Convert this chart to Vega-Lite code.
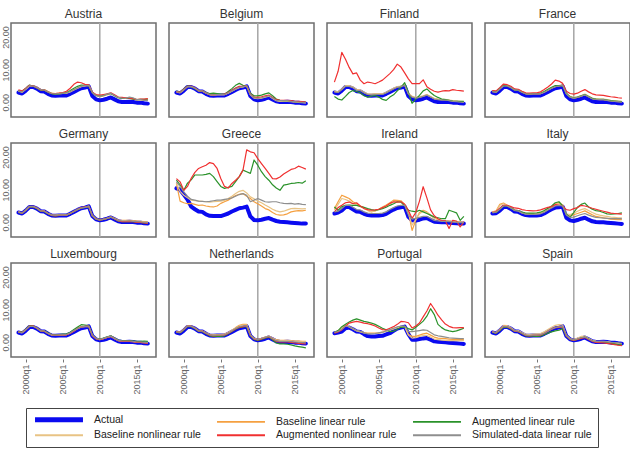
{
  "$schema": "https://vega.github.io/schema/vega-lite/v6.json",
  "background": "white",
  "padding": {"left": 0, "top": 7, "right": 2, "bottom": 2},
  "config": {
    "font": "Liberation Sans",
    "view": {"stroke": "#6e6e6e", "strokeWidth": 1.5},
    "axis": {"grid": false, "domain": false, "labelFont": "Liberation Sans", "labelColor": "#666666", "labelFontSize": 9, "tickColor": "#777777", "tickSize": 3, "title": null},
    "axisY": {"ticks": false, "labelPadding": 0},
    "header": {"labelFont": "Liberation Sans", "labelFontSize": 12, "labelColor": "#333333"},
    "legend": {"labelFont": "Liberation Sans", "labelFontSize": 10.5, "labelColor": "#222222"}
  },
  "data": {"values": [
{"c":"Austria","t":1999,"act":3.0,"bl":3.5,"bn":3.4,"al":3.6,"an":3.8,"sd":3.5},
{"c":"Austria","t":1999.5,"act":2.7,"bl":3.2,"bn":3.1,"al":3.4,"an":3.5,"sd":3.2},
{"c":"Austria","t":2000,"act":3.6,"bl":4.1,"bn":4.0,"al":4.3,"an":4.3,"sd":4.1},
{"c":"Austria","t":2000.5,"act":4.7,"bl":5.1,"bn":5.0,"al":5.3,"an":5.2,"sd":5.1},
{"c":"Austria","t":2001,"act":4.7,"bl":5.1,"bn":5.0,"al":5.0,"an":5.0,"sd":5.0},
{"c":"Austria","t":2001.5,"act":4.2,"bl":4.6,"bn":4.5,"al":4.4,"an":4.5,"sd":4.5},
{"c":"Austria","t":2002,"act":3.4,"bl":3.9,"bn":3.8,"al":3.8,"an":3.9,"sd":3.9},
{"c":"Austria","t":2002.5,"act":3.3,"bl":3.9,"bn":3.8,"al":3.7,"an":3.8,"sd":3.8},
{"c":"Austria","t":2003,"act":2.6,"bl":3.3,"bn":3.2,"al":3.1,"an":3.2,"sd":3.2},
{"c":"Austria","t":2003.5,"act":2.1,"bl":2.8,"bn":2.7,"al":2.6,"an":2.7,"sd":2.7},
{"c":"Austria","t":2004,"act":2.0,"bl":2.7,"bn":2.6,"al":2.5,"an":2.7,"sd":2.6},
{"c":"Austria","t":2004.5,"act":2.1,"bl":2.8,"bn":2.6,"al":2.6,"an":2.8,"sd":2.7},
{"c":"Austria","t":2005,"act":2.1,"bl":2.8,"bn":2.7,"al":2.8,"an":3.0,"sd":2.8},
{"c":"Austria","t":2005.5,"act":2.1,"bl":2.9,"bn":2.8,"al":3.0,"an":3.4,"sd":2.9},
{"c":"Austria","t":2006,"act":2.6,"bl":3.3,"bn":3.2,"al":3.6,"an":4.3,"sd":3.3},
{"c":"Austria","t":2006.5,"act":3.2,"bl":3.9,"bn":3.8,"al":4.3,"an":5.5,"sd":3.9},
{"c":"Austria","t":2007,"act":3.8,"bl":4.4,"bn":4.3,"al":4.9,"an":6.2,"sd":4.4},
{"c":"Austria","t":2007.5,"act":4.3,"bl":4.9,"bn":4.8,"al":5.3,"an":6.0,"sd":4.9},
{"c":"Austria","t":2008,"act":4.5,"bl":5.1,"bn":5.0,"al":5.2,"an":5.5,"sd":5.1},
{"c":"Austria","t":2008.5,"act":4.9,"bl":5.3,"bn":5.2,"al":5.1,"an":5.4,"sd":5.2},
{"c":"Austria","t":2009,"act":1.9,"bl":3.1,"bn":3.0,"al":3.0,"an":3.1,"sd":3.0},
{"c":"Austria","t":2009.5,"act":0.9,"bl":2.1,"bn":2.0,"al":2.1,"an":2.4,"sd":2.1},
{"c":"Austria","t":2010,"act":0.6,"bl":1.8,"bn":1.7,"al":1.9,"an":2.2,"sd":1.8},
{"c":"Austria","t":2010.5,"act":0.8,"bl":2.0,"bn":1.9,"al":2.1,"an":2.4,"sd":2.1},
{"c":"Austria","t":2011,"act":1.1,"bl":2.4,"bn":2.3,"al":2.5,"an":2.6,"sd":2.5},
{"c":"Austria","t":2011.5,"act":1.5,"bl":2.7,"bn":2.6,"al":2.7,"an":2.9,"sd":2.8},
{"c":"Austria","t":2012,"act":0.9,"bl":2.1,"bn":2.0,"al":2.0,"an":2.3,"sd":2.1},
{"c":"Austria","t":2012.5,"act":0.3,"bl":1.5,"bn":1.4,"al":1.4,"an":1.6,"sd":1.5},
{"c":"Austria","t":2013,"act":0.1,"bl":1.3,"bn":1.2,"al":1.2,"an":1.5,"sd":1.3},
{"c":"Austria","t":2013.5,"act":0.1,"bl":1.2,"bn":1.2,"al":1.2,"an":1.4,"sd":1.2},
{"c":"Austria","t":2014,"act":0.2,"bl":1.3,"bn":1.2,"al":1.2,"an":1.3,"sd":1.6},
{"c":"Austria","t":2014.5,"act":0.1,"bl":1.1,"bn":1.0,"al":1.0,"an":1.1,"sd":1.4},
{"c":"Austria","t":2015,"act":-0.1,"bl":0.9,"bn":0.8,"al":0.8,"an":0.8,"sd":0.8},
{"c":"Austria","t":2015.5,"act":-0.1,"bl":0.8,"bn":0.8,"al":0.9,"an":1.0,"sd":0.8},
{"c":"Austria","t":2016,"act":-0.3,"bl":0.7,"bn":0.7,"al":0.9,"an":1.0,"sd":0.6},
{"c":"Austria","t":2016.5,"act":-0.4,"bl":0.7,"bn":0.6,"al":1.0,"an":1.1,"sd":0.6},
{"c":"Belgium","t":1999,"act":3.0,"bl":3.3,"bn":3.2,"al":3.4,"an":3.3,"sd":3.3},
{"c":"Belgium","t":1999.5,"act":2.7,"bl":3.0,"bn":2.9,"al":3.2,"an":3.1,"sd":3.0},
{"c":"Belgium","t":2000,"act":3.6,"bl":3.9,"bn":3.8,"al":4.1,"an":4.0,"sd":3.9},
{"c":"Belgium","t":2000.5,"act":4.7,"bl":4.9,"bn":4.8,"al":5.0,"an":4.9,"sd":4.8},
{"c":"Belgium","t":2001,"act":4.7,"bl":4.9,"bn":4.8,"al":4.8,"an":4.9,"sd":4.8},
{"c":"Belgium","t":2001.5,"act":4.2,"bl":4.4,"bn":4.3,"al":4.2,"an":4.4,"sd":4.3},
{"c":"Belgium","t":2002,"act":3.4,"bl":3.6,"bn":3.5,"al":3.6,"an":3.6,"sd":3.6},
{"c":"Belgium","t":2002.5,"act":3.3,"bl":3.5,"bn":3.4,"al":3.5,"an":3.5,"sd":3.5},
{"c":"Belgium","t":2003,"act":2.6,"bl":2.9,"bn":2.8,"al":3.0,"an":2.9,"sd":2.9},
{"c":"Belgium","t":2003.5,"act":2.1,"bl":2.4,"bn":2.3,"al":2.7,"an":2.4,"sd":2.4},
{"c":"Belgium","t":2004,"act":2.0,"bl":2.3,"bn":2.2,"al":2.8,"an":2.3,"sd":2.3},
{"c":"Belgium","t":2004.5,"act":2.1,"bl":2.4,"bn":2.3,"al":2.7,"an":2.4,"sd":2.4},
{"c":"Belgium","t":2005,"act":2.1,"bl":2.4,"bn":2.3,"al":2.5,"an":2.4,"sd":2.4},
{"c":"Belgium","t":2005.5,"act":2.1,"bl":2.4,"bn":2.3,"al":2.5,"an":2.5,"sd":2.4},
{"c":"Belgium","t":2006,"act":2.6,"bl":2.9,"bn":2.8,"al":3.3,"an":3.0,"sd":2.9},
{"c":"Belgium","t":2006.5,"act":3.2,"bl":3.5,"bn":3.4,"al":4.2,"an":3.7,"sd":3.5},
{"c":"Belgium","t":2007,"act":3.8,"bl":4.1,"bn":4.0,"al":5.2,"an":4.4,"sd":4.1},
{"c":"Belgium","t":2007.5,"act":4.3,"bl":4.6,"bn":4.5,"al":5.8,"an":4.9,"sd":4.6},
{"c":"Belgium","t":2008,"act":4.5,"bl":4.8,"bn":4.7,"al":5.2,"an":4.9,"sd":4.8},
{"c":"Belgium","t":2008.5,"act":4.9,"bl":5.1,"bn":5.0,"al":5.0,"an":5.0,"sd":5.0},
{"c":"Belgium","t":2009,"act":1.9,"bl":2.4,"bn":2.3,"al":2.8,"an":2.5,"sd":2.4},
{"c":"Belgium","t":2009.5,"act":0.9,"bl":1.4,"bn":1.3,"al":2.0,"an":1.6,"sd":1.4},
{"c":"Belgium","t":2010,"act":0.6,"bl":1.2,"bn":1.1,"al":2.0,"an":1.5,"sd":1.2},
{"c":"Belgium","t":2010.5,"act":0.8,"bl":1.4,"bn":1.3,"al":2.2,"an":1.7,"sd":1.4},
{"c":"Belgium","t":2011,"act":1.1,"bl":1.7,"bn":1.6,"al":2.6,"an":2.0,"sd":1.7},
{"c":"Belgium","t":2011.5,"act":1.5,"bl":2.0,"bn":1.9,"al":2.9,"an":2.2,"sd":2.0},
{"c":"Belgium","t":2012,"act":0.9,"bl":1.3,"bn":1.2,"al":2.0,"an":1.5,"sd":1.3},
{"c":"Belgium","t":2012.5,"act":0.3,"bl":0.6,"bn":0.5,"al":1.0,"an":0.8,"sd":0.6},
{"c":"Belgium","t":2013,"act":0.1,"bl":0.4,"bn":0.3,"al":0.6,"an":0.6,"sd":0.5},
{"c":"Belgium","t":2013.5,"act":0.1,"bl":0.4,"bn":0.3,"al":0.5,"an":0.6,"sd":0.5},
{"c":"Belgium","t":2014,"act":0.2,"bl":0.4,"bn":0.3,"al":0.5,"an":0.6,"sd":0.5},
{"c":"Belgium","t":2014.5,"act":0.1,"bl":0.3,"bn":0.2,"al":0.4,"an":0.5,"sd":0.3},
{"c":"Belgium","t":2015,"act":-0.1,"bl":0.1,"bn":0.1,"al":0.2,"an":0.3,"sd":0.2},
{"c":"Belgium","t":2015.5,"act":-0.1,"bl":0.1,"bn":0.0,"al":0.2,"an":0.3,"sd":0.1},
{"c":"Belgium","t":2016,"act":-0.3,"bl":0.0,"bn":-0.1,"al":0.1,"an":0.2,"sd":0.0},
{"c":"Belgium","t":2016.5,"act":-0.4,"bl":-0.1,"bn":-0.2,"al":0.0,"an":0.1,"sd":-0.1},
{"c":"Finland","t":1999,"act":3.0,"bl":3.3,"bn":3.4,"al":1.8,"an":6.2,"sd":3.2},
{"c":"Finland","t":1999.5,"act":2.7,"bl":3.1,"bn":3.2,"al":1.0,"an":9.5,"sd":3.0},
{"c":"Finland","t":2000,"act":3.6,"bl":4.0,"bn":4.1,"al":0.7,"an":15.3,"sd":3.9},
{"c":"Finland","t":2000.5,"act":4.7,"bl":5.0,"bn":5.1,"al":1.8,"an":13.2,"sd":4.9},
{"c":"Finland","t":2001,"act":4.7,"bl":5.0,"bn":5.1,"al":3.0,"an":10.7,"sd":4.9},
{"c":"Finland","t":2001.5,"act":4.2,"bl":4.6,"bn":4.7,"al":3.6,"an":8.7,"sd":4.5},
{"c":"Finland","t":2002,"act":3.4,"bl":3.8,"bn":3.9,"al":3.3,"an":9.0,"sd":3.7},
{"c":"Finland","t":2002.5,"act":3.3,"bl":3.7,"bn":3.8,"al":2.9,"an":6.8,"sd":3.6},
{"c":"Finland","t":2003,"act":2.6,"bl":3.0,"bn":3.1,"al":2.0,"an":5.7,"sd":2.9},
{"c":"Finland","t":2003.5,"act":2.1,"bl":2.5,"bn":2.6,"al":1.6,"an":6.2,"sd":2.4},
{"c":"Finland","t":2004,"act":2.0,"bl":2.4,"bn":2.5,"al":1.9,"an":6.0,"sd":2.3},
{"c":"Finland","t":2004.5,"act":2.1,"bl":2.5,"bn":2.6,"al":2.1,"an":5.7,"sd":2.4},
{"c":"Finland","t":2005,"act":2.1,"bl":2.5,"bn":2.6,"al":1.6,"an":6.2,"sd":2.4},
{"c":"Finland","t":2005.5,"act":2.1,"bl":2.5,"bn":2.6,"al":0.9,"an":6.8,"sd":2.4},
{"c":"Finland","t":2006,"act":2.6,"bl":3.0,"bn":3.1,"al":0.6,"an":7.8,"sd":2.9},
{"c":"Finland","t":2006.5,"act":3.2,"bl":3.6,"bn":3.7,"al":1.6,"an":8.8,"sd":3.5},
{"c":"Finland","t":2007,"act":3.8,"bl":4.2,"bn":4.3,"al":2.3,"an":10.0,"sd":4.1},
{"c":"Finland","t":2007.5,"act":4.3,"bl":4.7,"bn":4.8,"al":3.5,"an":11.7,"sd":4.6},
{"c":"Finland","t":2008,"act":4.5,"bl":4.9,"bn":5.0,"al":4.6,"an":10.8,"sd":4.8},
{"c":"Finland","t":2008.5,"act":4.9,"bl":5.3,"bn":5.4,"al":6.0,"an":9.0,"sd":5.2},
{"c":"Finland","t":2009,"act":1.9,"bl":2.7,"bn":2.8,"al":3.0,"an":7.2,"sd":2.6},
{"c":"Finland","t":2009.5,"act":0.9,"bl":1.7,"bn":1.8,"al":-0.3,"an":5.7,"sd":1.6},
{"c":"Finland","t":2010,"act":0.6,"bl":1.4,"bn":1.5,"al":1.0,"an":5.7,"sd":1.3},
{"c":"Finland","t":2010.5,"act":0.8,"bl":1.6,"bn":1.7,"al":2.1,"an":5.7,"sd":1.5},
{"c":"Finland","t":2011,"act":1.1,"bl":1.9,"bn":2.0,"al":3.5,"an":6.9,"sd":1.8},
{"c":"Finland","t":2011.5,"act":1.5,"bl":2.3,"bn":2.4,"al":4.1,"an":4.8,"sd":2.2},
{"c":"Finland","t":2012,"act":0.9,"bl":1.7,"bn":1.8,"al":3.0,"an":4.0,"sd":1.6},
{"c":"Finland","t":2012.5,"act":0.3,"bl":1.1,"bn":1.2,"al":2.1,"an":3.4,"sd":1.0},
{"c":"Finland","t":2013,"act":0.1,"bl":0.9,"bn":1.0,"al":1.5,"an":3.1,"sd":0.8},
{"c":"Finland","t":2013.5,"act":0.1,"bl":0.8,"bn":0.9,"al":1.0,"an":3.4,"sd":0.7},
{"c":"Finland","t":2014,"act":0.2,"bl":0.8,"bn":0.9,"al":0.8,"an":3.6,"sd":0.7},
{"c":"Finland","t":2014.5,"act":0.1,"bl":0.6,"bn":0.7,"al":0.6,"an":3.5,"sd":0.5},
{"c":"Finland","t":2015,"act":-0.1,"bl":0.4,"bn":0.5,"al":0.4,"an":3.9,"sd":0.3},
{"c":"Finland","t":2015.5,"act":-0.1,"bl":0.3,"bn":0.4,"al":0.3,"an":3.7,"sd":0.2},
{"c":"Finland","t":2016,"act":-0.3,"bl":0.2,"bn":0.3,"al":0.3,"an":3.6,"sd":0.1},
{"c":"Finland","t":2016.5,"act":-0.4,"bl":0.1,"bn":0.2,"al":0.3,"an":3.4,"sd":0.0},
{"c":"France","t":1999,"act":3.0,"bl":3.3,"bn":3.4,"al":3.4,"an":3.6,"sd":3.3},
{"c":"France","t":1999.5,"act":2.7,"bl":3.1,"bn":3.2,"al":3.3,"an":3.5,"sd":3.1},
{"c":"France","t":2000,"act":3.6,"bl":4.1,"bn":4.2,"al":4.3,"an":4.5,"sd":4.1},
{"c":"France","t":2000.5,"act":4.7,"bl":5.1,"bn":5.2,"al":5.2,"an":5.6,"sd":5.0},
{"c":"France","t":2001,"act":4.7,"bl":5.1,"bn":5.2,"al":5.0,"an":5.4,"sd":5.0},
{"c":"France","t":2001.5,"act":4.2,"bl":4.6,"bn":4.7,"al":4.5,"an":4.9,"sd":4.5},
{"c":"France","t":2002,"act":3.4,"bl":3.8,"bn":3.9,"al":3.8,"an":4.1,"sd":3.8},
{"c":"France","t":2002.5,"act":3.3,"bl":3.7,"bn":3.8,"al":3.7,"an":4.0,"sd":3.7},
{"c":"France","t":2003,"act":2.6,"bl":3.1,"bn":3.2,"al":3.2,"an":3.4,"sd":3.1},
{"c":"France","t":2003.5,"act":2.1,"bl":2.6,"bn":2.7,"al":2.7,"an":2.9,"sd":2.6},
{"c":"France","t":2004,"act":2.0,"bl":2.5,"bn":2.6,"al":2.6,"an":2.8,"sd":2.5},
{"c":"France","t":2004.5,"act":2.1,"bl":2.6,"bn":2.7,"al":2.7,"an":2.9,"sd":2.6},
{"c":"France","t":2005,"act":2.1,"bl":2.6,"bn":2.7,"al":2.7,"an":2.9,"sd":2.6},
{"c":"France","t":2005.5,"act":2.1,"bl":2.6,"bn":2.7,"al":2.8,"an":3.2,"sd":2.6},
{"c":"France","t":2006,"act":2.6,"bl":3.1,"bn":3.2,"al":3.3,"an":3.9,"sd":3.1},
{"c":"France","t":2006.5,"act":3.2,"bl":3.7,"bn":3.8,"al":4.0,"an":4.7,"sd":3.7},
{"c":"France","t":2007,"act":3.8,"bl":4.3,"bn":4.4,"al":4.6,"an":5.6,"sd":4.3},
{"c":"France","t":2007.5,"act":4.3,"bl":4.8,"bn":4.9,"al":5.1,"an":6.8,"sd":4.8},
{"c":"France","t":2008,"act":4.5,"bl":5.0,"bn":5.1,"al":5.1,"an":6.5,"sd":5.0},
{"c":"France","t":2008.5,"act":4.9,"bl":5.2,"bn":5.3,"al":5.2,"an":5.8,"sd":5.2},
{"c":"France","t":2009,"act":1.9,"bl":2.6,"bn":2.8,"al":2.7,"an":3.4,"sd":2.6},
{"c":"France","t":2009.5,"act":0.9,"bl":1.6,"bn":1.8,"al":1.7,"an":2.7,"sd":1.6},
{"c":"France","t":2010,"act":0.6,"bl":1.3,"bn":1.5,"al":1.4,"an":2.5,"sd":1.3},
{"c":"France","t":2010.5,"act":0.8,"bl":1.5,"bn":1.7,"al":1.6,"an":2.8,"sd":1.5},
{"c":"France","t":2011,"act":1.1,"bl":1.9,"bn":2.1,"al":2.0,"an":3.4,"sd":1.9},
{"c":"France","t":2011.5,"act":1.5,"bl":2.3,"bn":2.5,"al":2.4,"an":3.9,"sd":2.3},
{"c":"France","t":2012,"act":0.9,"bl":1.7,"bn":1.9,"al":1.8,"an":3.2,"sd":1.7},
{"c":"France","t":2012.5,"act":0.3,"bl":1.1,"bn":1.3,"al":1.2,"an":2.6,"sd":1.1},
{"c":"France","t":2013,"act":0.1,"bl":0.9,"bn":1.1,"al":1.0,"an":2.3,"sd":0.9},
{"c":"France","t":2013.5,"act":0.1,"bl":0.8,"bn":1.0,"al":0.9,"an":2.2,"sd":0.8},
{"c":"France","t":2014,"act":0.2,"bl":0.8,"bn":1.0,"al":0.9,"an":2.1,"sd":0.8},
{"c":"France","t":2014.5,"act":0.1,"bl":0.6,"bn":0.8,"al":0.7,"an":1.9,"sd":0.6},
{"c":"France","t":2015,"act":-0.1,"bl":0.4,"bn":0.6,"al":0.5,"an":1.7,"sd":0.4},
{"c":"France","t":2015.5,"act":-0.1,"bl":0.3,"bn":0.5,"al":0.4,"an":1.6,"sd":0.3},
{"c":"France","t":2016,"act":-0.3,"bl":0.2,"bn":0.4,"al":0.3,"an":1.4,"sd":0.2},
{"c":"France","t":2016.5,"act":-0.4,"bl":0.1,"bn":0.3,"al":0.2,"an":1.3,"sd":0.1},
{"c":"Germany","t":1999,"act":3.0,"bl":3.2,"bn":3.1,"al":3.0,"an":3.1,"sd":3.1},
{"c":"Germany","t":1999.5,"act":2.7,"bl":2.9,"bn":2.8,"al":2.8,"an":2.8,"sd":2.8},
{"c":"Germany","t":2000,"act":3.6,"bl":3.8,"bn":3.7,"al":3.7,"an":3.7,"sd":3.7},
{"c":"Germany","t":2000.5,"act":4.7,"bl":4.9,"bn":4.8,"al":4.8,"an":4.8,"sd":4.8},
{"c":"Germany","t":2001,"act":4.7,"bl":4.9,"bn":4.8,"al":4.7,"an":4.8,"sd":4.8},
{"c":"Germany","t":2001.5,"act":4.2,"bl":4.4,"bn":4.3,"al":4.2,"an":4.3,"sd":4.3},
{"c":"Germany","t":2002,"act":3.4,"bl":3.6,"bn":3.5,"al":3.4,"an":3.5,"sd":3.5},
{"c":"Germany","t":2002.5,"act":3.3,"bl":3.5,"bn":3.4,"al":3.3,"an":3.4,"sd":3.4},
{"c":"Germany","t":2003,"act":2.6,"bl":2.8,"bn":2.7,"al":2.6,"an":2.7,"sd":2.7},
{"c":"Germany","t":2003.5,"act":2.1,"bl":2.3,"bn":2.2,"al":2.1,"an":2.1,"sd":2.2},
{"c":"Germany","t":2004,"act":2.0,"bl":2.2,"bn":2.1,"al":2.0,"an":2.0,"sd":2.1},
{"c":"Germany","t":2004.5,"act":2.1,"bl":2.3,"bn":2.2,"al":2.1,"an":2.1,"sd":2.2},
{"c":"Germany","t":2005,"act":2.1,"bl":2.3,"bn":2.2,"al":2.1,"an":2.1,"sd":2.2},
{"c":"Germany","t":2005.5,"act":2.1,"bl":2.3,"bn":2.2,"al":2.2,"an":2.2,"sd":2.2},
{"c":"Germany","t":2006,"act":2.6,"bl":2.8,"bn":2.7,"al":2.7,"an":2.7,"sd":2.7},
{"c":"Germany","t":2006.5,"act":3.2,"bl":3.4,"bn":3.3,"al":3.3,"an":3.3,"sd":3.3},
{"c":"Germany","t":2007,"act":3.8,"bl":4.0,"bn":3.9,"al":3.9,"an":3.9,"sd":3.9},
{"c":"Germany","t":2007.5,"act":4.3,"bl":4.5,"bn":4.4,"al":4.4,"an":4.5,"sd":4.4},
{"c":"Germany","t":2008,"act":4.5,"bl":4.7,"bn":4.6,"al":4.6,"an":4.7,"sd":4.6},
{"c":"Germany","t":2008.5,"act":4.9,"bl":5.0,"bn":4.9,"al":4.9,"an":4.9,"sd":4.9},
{"c":"Germany","t":2009,"act":1.9,"bl":2.1,"bn":2.0,"al":2.0,"an":2.0,"sd":2.0},
{"c":"Germany","t":2009.5,"act":0.9,"bl":1.1,"bn":1.0,"al":1.0,"an":1.0,"sd":1.0},
{"c":"Germany","t":2010,"act":0.6,"bl":0.8,"bn":0.7,"al":0.7,"an":0.7,"sd":0.7},
{"c":"Germany","t":2010.5,"act":0.8,"bl":1.0,"bn":0.9,"al":0.9,"an":0.9,"sd":0.9},
{"c":"Germany","t":2011,"act":1.1,"bl":1.3,"bn":1.2,"al":1.2,"an":1.2,"sd":1.2},
{"c":"Germany","t":2011.5,"act":1.5,"bl":1.7,"bn":1.6,"al":1.6,"an":1.6,"sd":1.6},
{"c":"Germany","t":2012,"act":0.9,"bl":1.2,"bn":1.1,"al":1.0,"an":1.0,"sd":1.1},
{"c":"Germany","t":2012.5,"act":0.3,"bl":0.7,"bn":0.6,"al":0.4,"an":0.4,"sd":0.5},
{"c":"Germany","t":2013,"act":0.1,"bl":0.6,"bn":0.5,"al":0.2,"an":0.2,"sd":0.4},
{"c":"Germany","t":2013.5,"act":0.1,"bl":0.6,"bn":0.5,"al":0.2,"an":0.2,"sd":0.4},
{"c":"Germany","t":2014,"act":0.2,"bl":0.6,"bn":0.5,"al":0.3,"an":0.3,"sd":0.4},
{"c":"Germany","t":2014.5,"act":0.1,"bl":0.5,"bn":0.4,"al":0.2,"an":0.2,"sd":0.3},
{"c":"Germany","t":2015,"act":-0.1,"bl":0.4,"bn":0.3,"al":0.0,"an":0.0,"sd":0.2},
{"c":"Germany","t":2015.5,"act":-0.1,"bl":0.3,"bn":0.2,"al":0.0,"an":0.0,"sd":0.1},
{"c":"Germany","t":2016,"act":-0.3,"bl":0.2,"bn":0.1,"al":-0.2,"an":-0.2,"sd":0.0},
{"c":"Germany","t":2016.5,"act":-0.4,"bl":0.1,"bn":0.0,"al":-0.3,"an":-0.3,"sd":-0.1},
{"c":"Greece","t":1999,"act":10.4,"bl":11.9,"bn":11.9,"al":12.9,"an":13.4,"sd":12.4},
{"c":"Greece","t":1999.5,"act":10.0,"bl":6.5,"bn":9.5,"al":11.5,"an":12.4,"sd":11.0},
{"c":"Greece","t":2000,"act":8.5,"bl":6.0,"bn":8.3,"al":9.8,"an":9.8,"sd":9.3},
{"c":"Greece","t":2000.5,"act":7.0,"bl":5.7,"bn":7.5,"al":12.0,"an":11.0,"sd":8.0},
{"c":"Greece","t":2001,"act":4.8,"bl":5.8,"bn":6.8,"al":13.0,"an":13.5,"sd":7.0},
{"c":"Greece","t":2001.5,"act":4.0,"bl":5.5,"bn":6.6,"al":14.5,"an":15.3,"sd":6.8},
{"c":"Greece","t":2002,"act":3.3,"bl":5.2,"bn":6.5,"al":14.5,"an":16.5,"sd":6.5},
{"c":"Greece","t":2002.5,"act":3.2,"bl":5.3,"bn":6.4,"al":14.5,"an":17.0,"sd":6.4},
{"c":"Greece","t":2003,"act":2.4,"bl":5.0,"bn":6.3,"al":14.7,"an":17.5,"sd":6.3},
{"c":"Greece","t":2003.5,"act":2.0,"bl":4.8,"bn":6.2,"al":15.0,"an":18.3,"sd":6.4},
{"c":"Greece","t":2004,"act":1.9,"bl":4.7,"bn":6.3,"al":14.0,"an":18.0,"sd":6.6},
{"c":"Greece","t":2004.5,"act":1.9,"bl":5.0,"bn":6.4,"al":12.5,"an":16.5,"sd":6.8},
{"c":"Greece","t":2005,"act":1.9,"bl":5.8,"bn":6.5,"al":11.0,"an":13.4,"sd":6.8},
{"c":"Greece","t":2005.5,"act":2.3,"bl":6.3,"bn":6.7,"al":10.4,"an":11.0,"sd":7.0},
{"c":"Greece","t":2006,"act":2.7,"bl":6.8,"bn":7.3,"al":10.7,"an":10.5,"sd":7.2},
{"c":"Greece","t":2006.5,"act":3.3,"bl":7.5,"bn":8.0,"al":11.0,"an":11.9,"sd":7.5},
{"c":"Greece","t":2007,"act":3.8,"bl":8.2,"bn":8.8,"al":12.5,"an":12.9,"sd":8.0},
{"c":"Greece","t":2007.5,"act":4.3,"bl":8.6,"bn":9.5,"al":14.0,"an":14.0,"sd":8.5},
{"c":"Greece","t":2008,"act":4.5,"bl":8.8,"bn":9.8,"al":16.0,"an":16.0,"sd":8.8},
{"c":"Greece","t":2008.5,"act":4.8,"bl":8.0,"bn":9.0,"al":15.5,"an":22.2,"sd":8.3},
{"c":"Greece","t":2009,"act":1.8,"bl":7.3,"bn":7.8,"al":15.0,"an":21.6,"sd":6.3},
{"c":"Greece","t":2009.5,"act":0.7,"bl":6.3,"bn":7.2,"al":19.1,"an":21.3,"sd":6.8},
{"c":"Greece","t":2010,"act":0.6,"bl":5.7,"bn":6.5,"al":17.5,"an":19.5,"sd":7.3},
{"c":"Greece","t":2010.5,"act":0.8,"bl":5.0,"bn":6.0,"al":15.5,"an":18.0,"sd":6.8},
{"c":"Greece","t":2011,"act":1.1,"bl":4.2,"bn":5.3,"al":14.0,"an":16.5,"sd":6.3},
{"c":"Greece","t":2011.5,"act":1.3,"bl":3.8,"bn":4.7,"al":12.9,"an":15.0,"sd":6.2},
{"c":"Greece","t":2012,"act":0.8,"bl":3.0,"bn":4.0,"al":11.5,"an":13.4,"sd":6.3},
{"c":"Greece","t":2012.5,"act":0.4,"bl":2.4,"bn":3.5,"al":10.5,"an":13.3,"sd":6.3},
{"c":"Greece","t":2013,"act":0.2,"bl":2.2,"bn":3.2,"al":9.8,"an":13.9,"sd":6.0},
{"c":"Greece","t":2013.5,"act":0.1,"bl":2.3,"bn":3.4,"al":11.4,"an":14.8,"sd":5.8},
{"c":"Greece","t":2014,"act":0.0,"bl":2.6,"bn":3.8,"al":11.6,"an":15.5,"sd":5.7},
{"c":"Greece","t":2014.5,"act":-0.1,"bl":3.2,"bn":4.2,"al":11.9,"an":16.2,"sd":5.8},
{"c":"Greece","t":2015,"act":-0.2,"bl":3.4,"bn":4.3,"al":12.0,"an":16.5,"sd":5.6},
{"c":"Greece","t":2015.5,"act":-0.3,"bl":3.6,"bn":4.2,"al":12.2,"an":17.2,"sd":5.7},
{"c":"Greece","t":2016,"act":-0.4,"bl":3.5,"bn":4.1,"al":12.0,"an":16.8,"sd":5.5},
{"c":"Greece","t":2016.5,"act":-0.4,"bl":3.7,"bn":4.2,"al":12.7,"an":16.3,"sd":5.4},
{"c":"Ireland","t":1999,"act":2.7,"bl":4.2,"bn":3.8,"al":4.7,"an":3.2,"sd":3.2},
{"c":"Ireland","t":1999.5,"act":3.0,"bl":6.3,"bn":5.5,"al":3.7,"an":4.5,"sd":3.4},
{"c":"Ireland","t":2000,"act":3.6,"bl":8.3,"bn":7.3,"al":4.8,"an":5.2,"sd":4.2},
{"c":"Ireland","t":2000.5,"act":4.7,"bl":7.8,"bn":7.0,"al":5.2,"an":6.0,"sd":5.2},
{"c":"Ireland","t":2001,"act":4.7,"bl":7.3,"bn":6.5,"al":5.3,"an":6.2,"sd":5.2},
{"c":"Ireland","t":2001.5,"act":4.0,"bl":6.3,"bn":5.8,"al":5.2,"an":5.7,"sd":4.6},
{"c":"Ireland","t":2002,"act":3.3,"bl":5.7,"bn":5.3,"al":5.2,"an":6.0,"sd":3.9},
{"c":"Ireland","t":2002.5,"act":3.2,"bl":5.0,"bn":4.8,"al":4.9,"an":5.0,"sd":3.8},
{"c":"Ireland","t":2003,"act":2.6,"bl":4.5,"bn":4.3,"al":4.6,"an":4.2,"sd":3.2},
{"c":"Ireland","t":2003.5,"act":2.2,"bl":3.7,"bn":3.6,"al":4.2,"an":3.9,"sd":2.8},
{"c":"Ireland","t":2004,"act":2.1,"bl":3.2,"bn":3.3,"al":3.9,"an":3.7,"sd":2.7},
{"c":"Ireland","t":2004.5,"act":2.1,"bl":3.5,"bn":3.5,"al":3.7,"an":3.8,"sd":2.7},
{"c":"Ireland","t":2005,"act":2.1,"bl":4.0,"bn":4.0,"al":3.9,"an":4.0,"sd":2.7},
{"c":"Ireland","t":2005.5,"act":2.2,"bl":4.7,"bn":4.5,"al":4.2,"an":4.5,"sd":2.8},
{"c":"Ireland","t":2006,"act":2.6,"bl":5.3,"bn":5.0,"al":4.6,"an":5.0,"sd":3.2},
{"c":"Ireland","t":2006.5,"act":3.3,"bl":6.0,"bn":5.6,"al":5.2,"an":5.8,"sd":3.9},
{"c":"Ireland","t":2007,"act":3.9,"bl":6.8,"bn":6.2,"al":5.7,"an":6.3,"sd":4.5},
{"c":"Ireland","t":2007.5,"act":4.4,"bl":6.7,"bn":6.3,"al":6.3,"an":6.2,"sd":5.0},
{"c":"Ireland","t":2008,"act":4.6,"bl":6.6,"bn":6.3,"al":6.2,"an":6.3,"sd":5.2},
{"c":"Ireland","t":2008.5,"act":4.8,"bl":5.5,"bn":5.3,"al":5.0,"an":5.5,"sd":5.2},
{"c":"Ireland","t":2009,"act":1.7,"bl":3.2,"bn":2.8,"al":3.7,"an":3.7,"sd":2.3},
{"c":"Ireland","t":2009.5,"act":0.6,"bl":-2.5,"bn":-0.9,"al":3.4,"an":1.2,"sd":1.0},
{"c":"Ireland","t":2010,"act":0.5,"bl":0.6,"bn":0.9,"al":3.2,"an":3.0,"sd":1.2},
{"c":"Ireland","t":2010.5,"act":0.8,"bl":3.0,"bn":2.6,"al":3.7,"an":6.5,"sd":1.5},
{"c":"Ireland","t":2011,"act":1.2,"bl":3.7,"bn":3.4,"al":3.2,"an":10.9,"sd":1.8},
{"c":"Ireland","t":2011.5,"act":1.3,"bl":3.2,"bn":3.0,"al":2.7,"an":7.5,"sd":1.8},
{"c":"Ireland","t":2012,"act":0.7,"bl":2.2,"bn":2.0,"al":2.2,"an":3.8,"sd":1.2},
{"c":"Ireland","t":2012.5,"act":0.2,"bl":1.3,"bn":1.2,"al":1.6,"an":2.0,"sd":0.6},
{"c":"Ireland","t":2013,"act":0.1,"bl":0.8,"bn":0.8,"al":1.4,"an":1.1,"sd":0.4},
{"c":"Ireland","t":2013.5,"act":0.0,"bl":0.6,"bn":0.5,"al":1.1,"an":0.5,"sd":0.3},
{"c":"Ireland","t":2014,"act":0.0,"bl":0.5,"bn":0.4,"al":1.1,"an":0.5,"sd":0.3},
{"c":"Ireland","t":2014.5,"act":-0.1,"bl":0.4,"bn":0.3,"al":3.7,"an":-1.9,"sd":0.2},
{"c":"Ireland","t":2015,"act":-0.2,"bl":0.3,"bn":0.2,"al":3.3,"an":0.6,"sd":0.1},
{"c":"Ireland","t":2015.5,"act":-0.3,"bl":0.2,"bn":0.1,"al":2.9,"an":0.4,"sd":0.0},
{"c":"Ireland","t":2016,"act":-0.4,"bl":0.1,"bn":0.0,"al":0.6,"an":-1.4,"sd":-0.1},
{"c":"Ireland","t":2016.5,"act":-0.4,"bl":0.1,"bn":0.0,"al":1.8,"an":0.1,"sd":-0.1},
{"c":"Italy","t":1999,"act":2.7,"bl":3.2,"bn":3.1,"al":3.0,"an":3.0,"sd":2.9},
{"c":"Italy","t":1999.5,"act":2.8,"bl":3.5,"bn":3.4,"al":3.0,"an":3.3,"sd":3.1},
{"c":"Italy","t":2000,"act":3.6,"bl":5.5,"bn":5.2,"al":4.0,"an":4.3,"sd":4.0},
{"c":"Italy","t":2000.5,"act":4.7,"bl":5.9,"bn":5.7,"al":5.0,"an":5.2,"sd":5.0},
{"c":"Italy","t":2001,"act":4.7,"bl":5.2,"bn":5.1,"al":5.0,"an":5.2,"sd":5.0},
{"c":"Italy","t":2001.5,"act":4.1,"bl":4.5,"bn":4.4,"al":4.4,"an":4.8,"sd":4.4},
{"c":"Italy","t":2002,"act":3.3,"bl":3.8,"bn":3.7,"al":3.7,"an":4.4,"sd":3.6},
{"c":"Italy","t":2002.5,"act":3.2,"bl":3.6,"bn":3.5,"al":3.6,"an":4.3,"sd":3.5},
{"c":"Italy","t":2003,"act":2.6,"bl":3.0,"bn":2.9,"al":3.1,"an":3.9,"sd":2.9},
{"c":"Italy","t":2003.5,"act":2.2,"bl":2.7,"bn":2.6,"al":2.8,"an":3.7,"sd":2.5},
{"c":"Italy","t":2004,"act":2.1,"bl":2.6,"bn":2.5,"al":2.8,"an":3.6,"sd":2.4},
{"c":"Italy","t":2004.5,"act":2.1,"bl":2.6,"bn":2.5,"al":2.8,"an":3.5,"sd":2.4},
{"c":"Italy","t":2005,"act":2.1,"bl":2.7,"bn":2.6,"al":2.9,"an":3.6,"sd":2.5},
{"c":"Italy","t":2005.5,"act":2.2,"bl":2.9,"bn":2.8,"al":3.1,"an":3.8,"sd":2.6},
{"c":"Italy","t":2006,"act":2.7,"bl":3.3,"bn":3.2,"al":3.6,"an":4.2,"sd":3.1},
{"c":"Italy","t":2006.5,"act":3.4,"bl":4.0,"bn":3.9,"al":4.3,"an":4.6,"sd":3.8},
{"c":"Italy","t":2007,"act":4.0,"bl":4.7,"bn":4.6,"al":5.0,"an":4.8,"sd":4.4},
{"c":"Italy","t":2007.5,"act":4.5,"bl":5.6,"bn":5.4,"al":6.0,"an":5.4,"sd":5.0},
{"c":"Italy","t":2008,"act":4.6,"bl":6.1,"bn":5.8,"al":6.3,"an":5.3,"sd":5.2},
{"c":"Italy","t":2008.5,"act":4.8,"bl":5.3,"bn":5.2,"al":5.0,"an":5.0,"sd":5.0},
{"c":"Italy","t":2009,"act":1.4,"bl":2.3,"bn":2.6,"al":2.5,"an":3.9,"sd":2.2},
{"c":"Italy","t":2009.5,"act":0.6,"bl":1.9,"bn":2.4,"al":1.6,"an":3.7,"sd":1.5},
{"c":"Italy","t":2010,"act":0.4,"bl":2.3,"bn":2.8,"al":3.0,"an":4.2,"sd":1.6},
{"c":"Italy","t":2010.5,"act":0.7,"bl":2.7,"bn":3.4,"al":4.6,"an":4.5,"sd":2.0},
{"c":"Italy","t":2011,"act":1.1,"bl":3.1,"bn":3.9,"al":5.5,"an":5.2,"sd":2.4},
{"c":"Italy","t":2011.5,"act":1.4,"bl":3.5,"bn":4.2,"al":5.9,"an":5.0,"sd":2.7},
{"c":"Italy","t":2012,"act":0.8,"bl":2.9,"bn":3.6,"al":4.7,"an":4.7,"sd":2.2},
{"c":"Italy","t":2012.5,"act":0.3,"bl":2.3,"bn":3.0,"al":4.0,"an":4.3,"sd":1.8},
{"c":"Italy","t":2013,"act":0.1,"bl":1.8,"bn":2.5,"al":3.6,"an":4.0,"sd":1.5},
{"c":"Italy","t":2013.5,"act":0.0,"bl":1.6,"bn":2.2,"al":3.4,"an":3.7,"sd":1.4},
{"c":"Italy","t":2014,"act":0.0,"bl":1.4,"bn":2.0,"al":3.0,"an":3.4,"sd":1.3},
{"c":"Italy","t":2014.5,"act":-0.1,"bl":1.2,"bn":1.8,"al":2.6,"an":3.1,"sd":1.2},
{"c":"Italy","t":2015,"act":-0.2,"bl":1.0,"bn":1.6,"al":2.5,"an":2.8,"sd":1.1},
{"c":"Italy","t":2015.5,"act":-0.3,"bl":0.9,"bn":1.5,"al":2.6,"an":2.7,"sd":1.1},
{"c":"Italy","t":2016,"act":-0.4,"bl":0.8,"bn":1.4,"al":2.7,"an":2.6,"sd":1.1},
{"c":"Italy","t":2016.5,"act":-0.5,"bl":0.8,"bn":1.4,"al":2.9,"an":2.5,"sd":1.1},
{"c":"Luxembourg","t":1999,"act":3.0,"bl":3.2,"bn":3.1,"al":3.3,"an":3.2,"sd":3.2},
{"c":"Luxembourg","t":1999.5,"act":2.7,"bl":3.0,"bn":2.9,"al":3.1,"an":3.0,"sd":3.0},
{"c":"Luxembourg","t":2000,"act":3.6,"bl":3.9,"bn":3.8,"al":4.0,"an":3.9,"sd":3.9},
{"c":"Luxembourg","t":2000.5,"act":4.7,"bl":5.0,"bn":4.9,"al":5.1,"an":5.0,"sd":4.9},
{"c":"Luxembourg","t":2001,"act":4.7,"bl":5.0,"bn":4.9,"al":5.0,"an":5.0,"sd":4.9},
{"c":"Luxembourg","t":2001.5,"act":4.2,"bl":4.4,"bn":4.3,"al":4.4,"an":4.4,"sd":4.4},
{"c":"Luxembourg","t":2002,"act":3.4,"bl":3.6,"bn":3.5,"al":3.6,"an":3.6,"sd":3.6},
{"c":"Luxembourg","t":2002.5,"act":3.3,"bl":3.5,"bn":3.4,"al":3.5,"an":3.4,"sd":3.5},
{"c":"Luxembourg","t":2003,"act":2.6,"bl":2.8,"bn":2.7,"al":2.9,"an":2.8,"sd":2.8},
{"c":"Luxembourg","t":2003.5,"act":2.1,"bl":2.3,"bn":2.2,"al":2.4,"an":2.3,"sd":2.3},
{"c":"Luxembourg","t":2004,"act":2.0,"bl":2.2,"bn":2.1,"al":2.3,"an":2.1,"sd":2.2},
{"c":"Luxembourg","t":2004.5,"act":2.1,"bl":2.3,"bn":2.2,"al":2.4,"an":2.2,"sd":2.3},
{"c":"Luxembourg","t":2005,"act":2.1,"bl":2.3,"bn":2.2,"al":2.5,"an":2.2,"sd":2.3},
{"c":"Luxembourg","t":2005.5,"act":2.1,"bl":2.4,"bn":2.3,"al":2.6,"an":2.3,"sd":2.4},
{"c":"Luxembourg","t":2006,"act":2.6,"bl":2.9,"bn":2.8,"al":3.1,"an":2.8,"sd":2.9},
{"c":"Luxembourg","t":2006.5,"act":3.2,"bl":3.6,"bn":3.5,"al":3.9,"an":3.5,"sd":3.6},
{"c":"Luxembourg","t":2007,"act":3.8,"bl":4.3,"bn":4.2,"al":4.7,"an":4.2,"sd":4.2},
{"c":"Luxembourg","t":2007.5,"act":4.3,"bl":4.8,"bn":4.7,"al":5.4,"an":4.7,"sd":4.7},
{"c":"Luxembourg","t":2008,"act":4.5,"bl":4.9,"bn":4.8,"al":5.3,"an":4.9,"sd":4.9},
{"c":"Luxembourg","t":2008.5,"act":4.9,"bl":5.0,"bn":4.9,"al":5.1,"an":5.0,"sd":5.0},
{"c":"Luxembourg","t":2009,"act":1.9,"bl":2.2,"bn":2.1,"al":2.3,"an":2.1,"sd":2.2},
{"c":"Luxembourg","t":2009.5,"act":0.9,"bl":1.2,"bn":1.1,"al":1.2,"an":1.1,"sd":1.2},
{"c":"Luxembourg","t":2010,"act":0.6,"bl":0.9,"bn":0.8,"al":1.0,"an":0.8,"sd":0.9},
{"c":"Luxembourg","t":2010.5,"act":0.8,"bl":1.2,"bn":1.1,"al":1.3,"an":1.1,"sd":1.2},
{"c":"Luxembourg","t":2011,"act":1.1,"bl":1.6,"bn":1.5,"al":1.7,"an":1.5,"sd":1.6},
{"c":"Luxembourg","t":2011.5,"act":1.5,"bl":1.9,"bn":1.8,"al":2.0,"an":1.8,"sd":1.9},
{"c":"Luxembourg","t":2012,"act":0.9,"bl":1.2,"bn":1.1,"al":1.3,"an":1.2,"sd":1.2},
{"c":"Luxembourg","t":2012.5,"act":0.3,"bl":0.6,"bn":0.5,"al":0.7,"an":0.5,"sd":0.6},
{"c":"Luxembourg","t":2013,"act":0.1,"bl":0.4,"bn":0.3,"al":0.5,"an":0.3,"sd":0.4},
{"c":"Luxembourg","t":2013.5,"act":0.1,"bl":0.4,"bn":0.3,"al":0.5,"an":0.3,"sd":0.4},
{"c":"Luxembourg","t":2014,"act":0.2,"bl":0.4,"bn":0.3,"al":0.5,"an":0.3,"sd":0.4},
{"c":"Luxembourg","t":2014.5,"act":0.1,"bl":0.3,"bn":0.2,"al":0.4,"an":0.2,"sd":0.3},
{"c":"Luxembourg","t":2015,"act":-0.1,"bl":0.1,"bn":0.0,"al":0.3,"an":0.0,"sd":0.1},
{"c":"Luxembourg","t":2015.5,"act":-0.1,"bl":0.1,"bn":0.0,"al":0.3,"an":0.0,"sd":0.1},
{"c":"Luxembourg","t":2016,"act":-0.3,"bl":0.0,"bn":-0.1,"al":0.4,"an":-0.2,"sd":0.0},
{"c":"Luxembourg","t":2016.5,"act":-0.4,"bl":-0.1,"bn":-0.2,"al":0.3,"an":-0.3,"sd":-0.1},
{"c":"Netherlands","t":1999,"act":3.0,"bl":3.3,"bn":3.2,"al":3.1,"an":3.2,"sd":3.2},
{"c":"Netherlands","t":1999.5,"act":2.7,"bl":3.1,"bn":3.0,"al":2.9,"an":3.0,"sd":3.0},
{"c":"Netherlands","t":2000,"act":3.6,"bl":4.0,"bn":3.9,"al":3.8,"an":3.9,"sd":3.9},
{"c":"Netherlands","t":2000.5,"act":4.7,"bl":5.1,"bn":5.0,"al":4.9,"an":5.0,"sd":5.0},
{"c":"Netherlands","t":2001,"act":4.7,"bl":5.0,"bn":4.9,"al":4.8,"an":4.9,"sd":4.9},
{"c":"Netherlands","t":2001.5,"act":4.2,"bl":4.4,"bn":4.3,"al":4.2,"an":4.3,"sd":4.3},
{"c":"Netherlands","t":2002,"act":3.4,"bl":3.6,"bn":3.5,"al":3.4,"an":3.5,"sd":3.5},
{"c":"Netherlands","t":2002.5,"act":3.3,"bl":3.5,"bn":3.4,"al":3.3,"an":3.4,"sd":3.4},
{"c":"Netherlands","t":2003,"act":2.6,"bl":2.9,"bn":2.8,"al":2.6,"an":2.7,"sd":2.8},
{"c":"Netherlands","t":2003.5,"act":2.1,"bl":2.4,"bn":2.3,"al":2.0,"an":2.2,"sd":2.3},
{"c":"Netherlands","t":2004,"act":2.0,"bl":2.3,"bn":2.2,"al":1.8,"an":2.0,"sd":2.1},
{"c":"Netherlands","t":2004.5,"act":2.1,"bl":2.4,"bn":2.3,"al":1.8,"an":2.1,"sd":2.2},
{"c":"Netherlands","t":2005,"act":2.1,"bl":2.4,"bn":2.3,"al":1.8,"an":2.1,"sd":2.2},
{"c":"Netherlands","t":2005.5,"act":2.1,"bl":2.5,"bn":2.4,"al":2.0,"an":2.2,"sd":2.3},
{"c":"Netherlands","t":2006,"act":2.6,"bl":3.0,"bn":2.9,"al":2.6,"an":2.7,"sd":2.8},
{"c":"Netherlands","t":2006.5,"act":3.2,"bl":3.7,"bn":3.6,"al":3.3,"an":3.4,"sd":3.5},
{"c":"Netherlands","t":2007,"act":3.8,"bl":4.5,"bn":4.3,"al":4.0,"an":4.1,"sd":4.2},
{"c":"Netherlands","t":2007.5,"act":4.3,"bl":5.2,"bn":5.0,"al":4.5,"an":4.6,"sd":4.8},
{"c":"Netherlands","t":2008,"act":4.5,"bl":5.5,"bn":5.3,"al":4.7,"an":4.8,"sd":5.0},
{"c":"Netherlands","t":2008.5,"act":4.9,"bl":5.5,"bn":5.3,"al":4.9,"an":5.0,"sd":5.1},
{"c":"Netherlands","t":2009,"act":1.9,"bl":2.3,"bn":2.2,"al":2.0,"an":2.1,"sd":2.2},
{"c":"Netherlands","t":2009.5,"act":0.9,"bl":1.2,"bn":1.1,"al":0.9,"an":1.0,"sd":1.1},
{"c":"Netherlands","t":2010,"act":0.6,"bl":0.9,"bn":0.8,"al":0.6,"an":0.7,"sd":0.8},
{"c":"Netherlands","t":2010.5,"act":0.8,"bl":1.2,"bn":1.1,"al":0.9,"an":1.0,"sd":1.1},
{"c":"Netherlands","t":2011,"act":1.1,"bl":1.6,"bn":1.5,"al":1.3,"an":1.4,"sd":1.5},
{"c":"Netherlands","t":2011.5,"act":1.5,"bl":1.9,"bn":1.8,"al":1.6,"an":1.7,"sd":1.8},
{"c":"Netherlands","t":2012,"act":0.9,"bl":1.3,"bn":1.2,"al":0.8,"an":1.0,"sd":1.1},
{"c":"Netherlands","t":2012.5,"act":0.3,"bl":0.8,"bn":0.7,"al":-0.2,"an":0.3,"sd":0.5},
{"c":"Netherlands","t":2013,"act":0.1,"bl":0.6,"bn":0.5,"al":-0.5,"an":0.1,"sd":0.3},
{"c":"Netherlands","t":2013.5,"act":0.1,"bl":0.6,"bn":0.5,"al":-0.5,"an":0.1,"sd":0.3},
{"c":"Netherlands","t":2014,"act":0.2,"bl":0.6,"bn":0.5,"al":-0.6,"an":0.1,"sd":0.3},
{"c":"Netherlands","t":2014.5,"act":0.1,"bl":0.5,"bn":0.4,"al":-0.8,"an":0.0,"sd":0.2},
{"c":"Netherlands","t":2015,"act":-0.1,"bl":0.4,"bn":0.3,"al":-1.1,"an":-0.2,"sd":0.1},
{"c":"Netherlands","t":2015.5,"act":-0.1,"bl":0.4,"bn":0.3,"al":-1.3,"an":-0.3,"sd":0.0},
{"c":"Netherlands","t":2016,"act":-0.3,"bl":0.3,"bn":0.2,"al":-1.5,"an":-0.4,"sd":-0.1},
{"c":"Netherlands","t":2016.5,"act":-0.4,"bl":0.3,"bn":0.2,"al":-1.7,"an":-0.5,"sd":-0.2},
{"c":"Portugal","t":1999,"act":2.8,"bl":3.0,"bn":3.0,"al":2.9,"an":2.8,"sd":3.0},
{"c":"Portugal","t":1999.5,"act":3.0,"bl":3.5,"bn":3.4,"al":3.6,"an":3.2,"sd":3.3},
{"c":"Portugal","t":2000,"act":3.3,"bl":4.5,"bn":4.3,"al":4.8,"an":3.8,"sd":4.0},
{"c":"Portugal","t":2000.5,"act":4.3,"bl":5.3,"bn":5.1,"al":5.5,"an":5.0,"sd":5.0},
{"c":"Portugal","t":2001,"act":4.5,"bl":4.8,"bn":4.7,"al":6.2,"an":5.9,"sd":4.8},
{"c":"Portugal","t":2001.5,"act":4.0,"bl":4.2,"bn":4.1,"al":6.8,"an":6.2,"sd":4.2},
{"c":"Portugal","t":2002,"act":3.3,"bl":3.6,"bn":3.5,"al":7.2,"an":6.4,"sd":3.6},
{"c":"Portugal","t":2002.5,"act":3.2,"bl":3.3,"bn":3.2,"al":6.8,"an":6.2,"sd":3.4},
{"c":"Portugal","t":2003,"act":2.5,"bl":3.0,"bn":2.9,"al":6.4,"an":5.9,"sd":2.9},
{"c":"Portugal","t":2003.5,"act":1.9,"bl":2.8,"bn":2.7,"al":6.2,"an":5.7,"sd":2.6},
{"c":"Portugal","t":2004,"act":1.8,"bl":2.8,"bn":2.7,"al":5.9,"an":5.4,"sd":2.6},
{"c":"Portugal","t":2004.5,"act":1.8,"bl":2.8,"bn":2.7,"al":5.5,"an":5.0,"sd":2.7},
{"c":"Portugal","t":2005,"act":1.9,"bl":2.9,"bn":2.8,"al":4.9,"an":4.4,"sd":2.9},
{"c":"Portugal","t":2005.5,"act":2.0,"bl":3.1,"bn":3.0,"al":4.3,"an":3.9,"sd":3.1},
{"c":"Portugal","t":2006,"act":2.4,"bl":3.5,"bn":3.4,"al":3.8,"an":3.8,"sd":3.5},
{"c":"Portugal","t":2006.5,"act":2.8,"bl":3.8,"bn":3.7,"al":3.3,"an":4.3,"sd":3.9},
{"c":"Portugal","t":2007,"act":3.5,"bl":4.2,"bn":4.1,"al":3.4,"an":4.8,"sd":4.3},
{"c":"Portugal","t":2007.5,"act":4.2,"bl":4.6,"bn":4.5,"al":4.0,"an":5.5,"sd":4.7},
{"c":"Portugal","t":2008,"act":4.5,"bl":4.8,"bn":4.7,"al":4.6,"an":6.4,"sd":5.0},
{"c":"Portugal","t":2008.5,"act":4.8,"bl":4.9,"bn":4.8,"al":4.7,"an":6.3,"sd":5.0},
{"c":"Portugal","t":2009,"act":2.5,"bl":2.5,"bn":2.2,"al":4.2,"an":6.0,"sd":3.3},
{"c":"Portugal","t":2009.5,"act":0.8,"bl":1.8,"bn":1.3,"al":3.8,"an":4.4,"sd":3.3},
{"c":"Portugal","t":2010,"act":0.8,"bl":1.8,"bn":1.4,"al":4.6,"an":5.0,"sd":3.4},
{"c":"Portugal","t":2010.5,"act":1.0,"bl":2.2,"bn":1.8,"al":5.5,"an":5.9,"sd":3.6},
{"c":"Portugal","t":2011,"act":1.2,"bl":2.6,"bn":2.1,"al":6.5,"an":7.8,"sd":3.8},
{"c":"Portugal","t":2011.5,"act":1.3,"bl":2.8,"bn":2.1,"al":8.0,"an":9.6,"sd":3.7},
{"c":"Portugal","t":2012,"act":0.8,"bl":2.2,"bn":1.6,"al":10.3,"an":11.9,"sd":3.0},
{"c":"Portugal","t":2012.5,"act":0.3,"bl":1.6,"bn":1.0,"al":8.5,"an":10.2,"sd":2.3},
{"c":"Portugal","t":2013,"act":0.2,"bl":1.3,"bn":0.8,"al":5.5,"an":8.3,"sd":2.0},
{"c":"Portugal","t":2013.5,"act":0.1,"bl":1.2,"bn":0.7,"al":4.5,"an":6.9,"sd":1.8},
{"c":"Portugal","t":2014,"act":0.0,"bl":1.1,"bn":0.6,"al":3.8,"an":5.6,"sd":1.6},
{"c":"Portugal","t":2014.5,"act":-0.1,"bl":1.0,"bn":0.5,"al":3.5,"an":4.9,"sd":1.4},
{"c":"Portugal","t":2015,"act":-0.2,"bl":0.9,"bn":0.5,"al":3.3,"an":4.5,"sd":1.3},
{"c":"Portugal","t":2015.5,"act":-0.3,"bl":0.8,"bn":0.5,"al":3.5,"an":4.4,"sd":1.2},
{"c":"Portugal","t":2016,"act":-0.4,"bl":0.8,"bn":0.5,"al":3.9,"an":4.5,"sd":1.1},
{"c":"Portugal","t":2016.5,"act":-0.5,"bl":0.8,"bn":0.5,"al":4.3,"an":4.5,"sd":1.1},
{"c":"Spain","t":1999,"act":3.0,"bl":3.1,"bn":3.2,"al":3.0,"an":3.1,"sd":3.1},
{"c":"Spain","t":1999.5,"act":2.7,"bl":2.9,"bn":3.0,"al":2.8,"an":2.9,"sd":2.9},
{"c":"Spain","t":2000,"act":3.6,"bl":3.8,"bn":4.0,"al":3.6,"an":3.8,"sd":3.8},
{"c":"Spain","t":2000.5,"act":4.7,"bl":4.9,"bn":5.2,"al":4.6,"an":4.9,"sd":4.8},
{"c":"Spain","t":2001,"act":4.7,"bl":4.9,"bn":5.1,"al":4.6,"an":4.8,"sd":4.8},
{"c":"Spain","t":2001.5,"act":4.2,"bl":4.3,"bn":4.5,"al":4.1,"an":4.2,"sd":4.3},
{"c":"Spain","t":2002,"act":3.4,"bl":3.5,"bn":3.7,"al":3.4,"an":3.4,"sd":3.5},
{"c":"Spain","t":2002.5,"act":3.3,"bl":3.4,"bn":3.6,"al":3.3,"an":3.3,"sd":3.4},
{"c":"Spain","t":2003,"act":2.6,"bl":2.8,"bn":3.0,"al":2.6,"an":2.7,"sd":2.8},
{"c":"Spain","t":2003.5,"act":2.1,"bl":2.3,"bn":2.5,"al":2.0,"an":2.1,"sd":2.2},
{"c":"Spain","t":2004,"act":2.0,"bl":2.2,"bn":2.4,"al":1.9,"an":2.0,"sd":2.1},
{"c":"Spain","t":2004.5,"act":2.1,"bl":2.3,"bn":2.5,"al":1.9,"an":2.1,"sd":2.2},
{"c":"Spain","t":2005,"act":2.1,"bl":2.3,"bn":2.6,"al":1.8,"an":2.1,"sd":2.2},
{"c":"Spain","t":2005.5,"act":2.1,"bl":2.4,"bn":2.7,"al":1.9,"an":2.2,"sd":2.3},
{"c":"Spain","t":2006,"act":2.6,"bl":2.9,"bn":3.2,"al":2.3,"an":2.7,"sd":2.8},
{"c":"Spain","t":2006.5,"act":3.2,"bl":3.5,"bn":3.9,"al":2.8,"an":3.4,"sd":3.4},
{"c":"Spain","t":2007,"act":3.8,"bl":4.1,"bn":4.6,"al":3.2,"an":4.0,"sd":4.0},
{"c":"Spain","t":2007.5,"act":4.3,"bl":4.6,"bn":5.2,"al":3.5,"an":4.5,"sd":4.5},
{"c":"Spain","t":2008,"act":4.5,"bl":4.7,"bn":5.4,"al":3.7,"an":4.6,"sd":4.7},
{"c":"Spain","t":2008.5,"act":4.9,"bl":4.8,"bn":5.3,"al":4.2,"an":4.8,"sd":4.9},
{"c":"Spain","t":2009,"act":1.9,"bl":2.0,"bn":2.1,"al":1.9,"an":1.9,"sd":2.0},
{"c":"Spain","t":2009.5,"act":0.9,"bl":1.0,"bn":1.1,"al":0.9,"an":0.9,"sd":1.0},
{"c":"Spain","t":2010,"act":0.6,"bl":0.7,"bn":0.9,"al":0.6,"an":0.6,"sd":0.7},
{"c":"Spain","t":2010.5,"act":0.8,"bl":1.0,"bn":1.3,"al":0.9,"an":0.9,"sd":1.0},
{"c":"Spain","t":2011,"act":1.1,"bl":1.4,"bn":1.8,"al":1.3,"an":1.2,"sd":1.4},
{"c":"Spain","t":2011.5,"act":1.5,"bl":1.7,"bn":1.9,"al":1.6,"an":1.5,"sd":1.6},
{"c":"Spain","t":2012,"act":0.9,"bl":1.1,"bn":1.2,"al":1.0,"an":0.9,"sd":1.0},
{"c":"Spain","t":2012.5,"act":0.3,"bl":0.5,"bn":0.6,"al":0.4,"an":0.3,"sd":0.4},
{"c":"Spain","t":2013,"act":0.1,"bl":0.3,"bn":0.4,"al":0.2,"an":0.0,"sd":0.2},
{"c":"Spain","t":2013.5,"act":0.1,"bl":0.2,"bn":0.3,"al":0.1,"an":-0.1,"sd":0.2},
{"c":"Spain","t":2014,"act":0.2,"bl":0.2,"bn":0.3,"al":0.1,"an":-0.2,"sd":0.2},
{"c":"Spain","t":2014.5,"act":0.1,"bl":0.1,"bn":0.2,"al":0.0,"an":-0.3,"sd":0.1},
{"c":"Spain","t":2015,"act":-0.1,"bl":-0.1,"bn":0.0,"al":-0.3,"an":-0.5,"sd":0.0},
{"c":"Spain","t":2015.5,"act":-0.1,"bl":-0.2,"bn":-0.1,"al":-0.5,"an":-0.7,"sd":-0.1},
{"c":"Spain","t":2016,"act":-0.3,"bl":-0.4,"bn":-0.3,"al":-0.7,"an":-0.9,"sd":-0.2},
{"c":"Spain","t":2016.5,"act":-0.4,"bl":-0.6,"bn":-0.5,"al":-0.8,"an":-1.0,"sd":-0.3}
  ]},
  "transform": [{"fold": ["act", "bl", "bn", "al", "an", "sd"], "as": ["s", "v"]}],
  "facet": {
    "field": "c", "type": "nominal",
    "sort": ["Austria", "Belgium", "Finland", "France", "Germany", "Greece", "Ireland", "Italy", "Luxembourg", "Netherlands", "Portugal", "Spain"],
    "header": {"title": null, "labelPadding": 1}
  },
  "columns": 4,
  "spacing": {"row": 8, "column": 11},
  "spec": {
    "width": 145,
    "height": 94,
    "layer": [
      {
        "transform": [{"filter": "datum.s === 'act' && datum.t === 1999"}],
        "mark": {"type": "rule", "color": "#a9a9a9", "strokeWidth": 1.6},
        "encoding": {
          "x": {"datum": 2010, "type": "quantitative", "scale": {"domain": [1998, 2017.6], "nice": false, "zero": false},
                "axis": {"values": [2000, 2005, 2010, 2015], "labelExpr": "datum.value + 'q1'", "labelAngle": -90, "title": null}}
        }
      },
      {
        "transform": [{"filter": "datum.s === 'act'"}],
        "mark": {"type": "line", "strokeWidth": 4, "strokeJoin": "round", "strokeCap": "round"},
        "encoding": {
          "x": {"field": "t", "type": "quantitative", "scale": {"domain": [1998, 2017.6], "nice": false, "zero": false},
                "axis": {"values": [2000, 2005, 2010, 2015], "labelExpr": "datum.value + 'q1'", "labelAngle": -90, "title": null}},
          "y": {"field": "v", "type": "quantitative", "scale": {"domain": [-4.5, 24.3], "nice": false, "zero": false},
                "axis": {"values": [0, 10, 20], "format": ".2f", "labelAngle": -90, "title": null}},
          "color": {"field": "s", "type": "nominal",
            "scale": {"domain": ["act", "bl", "al", "bn", "an", "sd"], "range": ["#0a0af0", "#f5a040", "#2a922a", "#e8c384", "#f03030", "#8e8e8e"]},
            "legend": {"title": null, "orient": "none", "legendX": 15, "legendY": 385, "direction": "horizontal", "columns": 3, "symbolType": "stroke", "symbolSize": 2300,
              "labelExpr": "datum.label === 'act' ? 'Actual' : datum.label === 'bl' ? 'Baseline linear rule' : datum.label === 'al' ? 'Augmented linear rule' : datum.label === 'bn' ? 'Baseline nonlinear rule' : datum.label === 'an' ? 'Augmented nonlinear rule' : 'Simulated-data linear rule'",
              "strokeColor": "#444444", "padding": 6, "rowPadding": 0, "columnPadding": 12, "labelOffset": 10, "labelLimit": 220,
              "encode": {
                "symbols": {"enter": {"strokeWidth": {"value": 2}}, "update": {"x": {"value": 27}, "strokeWidth": {"signal": "datum.value === 'act' ? 5 : 1.8"}}},
                "labels": {"update": {"x": {"value": 62}}}
              }}}
        }
      },
      {
        "transform": [{"filter": "datum.s !== 'act'"}],
        "mark": {"type": "line", "strokeWidth": 1.2, "strokeJoin": "round"},
        "encoding": {
          "x": {"field": "t", "type": "quantitative", "scale": {"domain": [1998, 2017.6], "nice": false, "zero": false},
                "axis": {"values": [2000, 2005, 2010, 2015], "labelExpr": "datum.value + 'q1'", "labelAngle": -90, "title": null}},
          "y": {"field": "v", "type": "quantitative", "scale": {"domain": [-4.5, 24.3], "nice": false, "zero": false},
                "axis": {"values": [0, 10, 20], "format": ".2f", "labelAngle": -90, "title": null}},
          "color": {"field": "s", "type": "nominal",
            "scale": {"domain": ["act", "bl", "al", "bn", "an", "sd"], "range": ["#0a0af0", "#f5a040", "#2a922a", "#e8c384", "#f03030", "#8e8e8e"]},
            "legend": {"title": null, "orient": "none", "legendX": 15, "legendY": 385, "direction": "horizontal", "columns": 3, "symbolType": "stroke", "symbolSize": 2300,
              "labelExpr": "datum.label === 'act' ? 'Actual' : datum.label === 'bl' ? 'Baseline linear rule' : datum.label === 'al' ? 'Augmented linear rule' : datum.label === 'bn' ? 'Baseline nonlinear rule' : datum.label === 'an' ? 'Augmented nonlinear rule' : 'Simulated-data linear rule'",
              "strokeColor": "#444444", "padding": 6, "rowPadding": 0, "columnPadding": 12, "labelOffset": 10, "labelLimit": 220,
              "encode": {
                "symbols": {"enter": {"strokeWidth": {"value": 2}}, "update": {"x": {"value": 27}, "strokeWidth": {"signal": "datum.value === 'act' ? 5 : 1.8"}}},
                "labels": {"update": {"x": {"value": 62}}}
              }}}
        }
      }
    ]
  }
}
